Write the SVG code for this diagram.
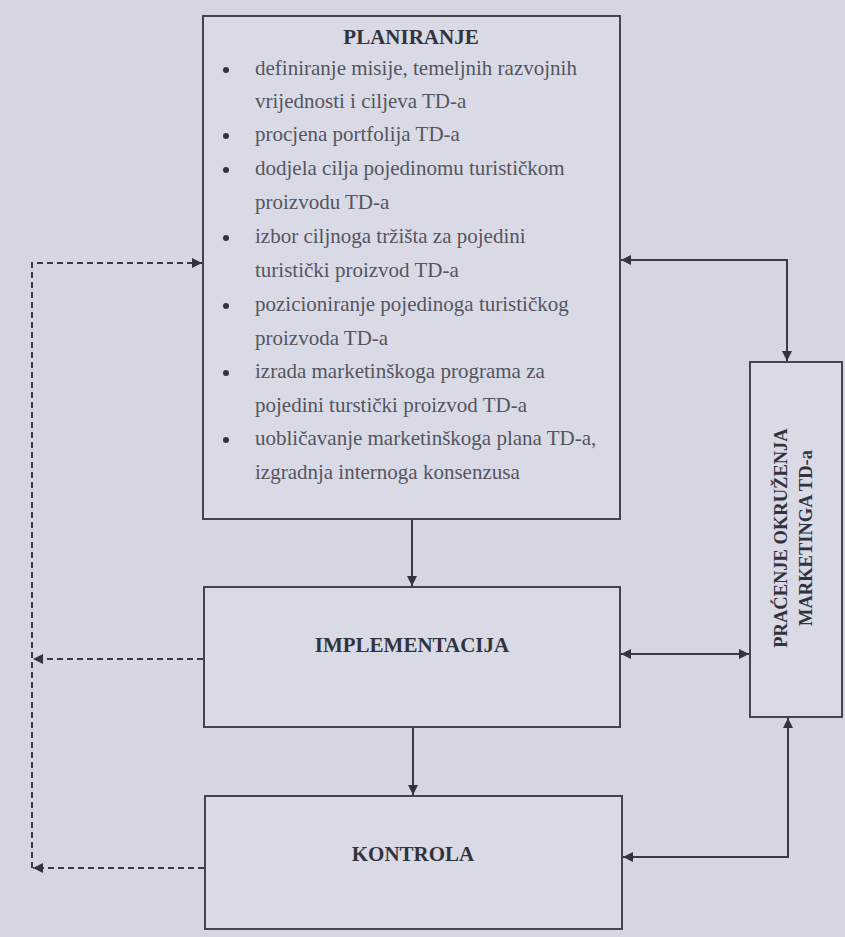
<svg xmlns="http://www.w3.org/2000/svg" width="845" height="937" viewBox="0 0 845 937">
<style>
.box{fill:#d9dae6;stroke:#44444f;stroke-width:2}
.ln{fill:none;stroke:#3a3a46;stroke-width:2}
.dash{fill:none;stroke:#3a3a46;stroke-width:2;stroke-dasharray:6 4}
.h{font-family:"Liberation Serif",serif;font-weight:bold;font-size:21px;fill:#33333d;text-anchor:middle}
.v{font-family:"Liberation Serif",serif;font-weight:bold;font-size:18.5px;fill:#33333d;text-anchor:middle}
.b{font-family:"Liberation Serif",serif;font-size:21px;fill:#55555f}
</style>
<defs>
<marker id="ah" viewBox="0 0 10 10" refX="10" refY="5" markerWidth="5" markerHeight="5" orient="auto-start-reverse" markerUnits="strokeWidth">
<path d="M0,0 L10,5 L0,10 z" fill="#33333d"/>
</marker>
</defs>
<rect width="845" height="937" fill="#d5d6e2"/>

<g id="planiranje">
<rect class="box" x="203" y="16" width="417" height="503"/>
<text class="h" x="411" y="44">PLANIRANJE</text>
<g fill="#33333d">
<circle cx="226" cy="70" r="3"/>
<circle cx="226" cy="136" r="3"/>
<circle cx="226" cy="170" r="3"/>
<circle cx="226" cy="238" r="3"/>
<circle cx="226" cy="306" r="3"/>
<circle cx="226" cy="373" r="3"/>
<circle cx="226" cy="440" r="3"/>
</g>
<text class="b" x="255" y="75">definiranje misije, temeljnih razvojnih</text>
<text class="b" x="255" y="108">vrijednosti i ciljeva TD-a</text>
<text class="b" x="255" y="141">procjena portfolija TD-a</text>
<text class="b" x="255" y="175">dodjela cilja pojedinomu turističkom</text>
<text class="b" x="255" y="209">proizvodu TD-a</text>
<text class="b" x="255" y="243">izbor ciljnoga tržišta za pojedini</text>
<text class="b" x="255" y="277">turistički proizvod TD-a</text>
<text class="b" x="255" y="311">pozicioniranje pojedinoga turističkog</text>
<text class="b" x="255" y="345">proizvoda TD-a</text>
<text class="b" x="255" y="378">izrada marketinškoga programa za</text>
<text class="b" x="255" y="412">pojedini turstički proizvod TD-a</text>
<text class="b" x="255" y="445">uobličavanje marketinškoga plana TD-a,</text>
<text class="b" x="255" y="479">izgradnja internoga konsenzusa</text>
</g>

<g id="implementacija">
<rect class="box" x="204" y="587" width="416" height="140"/>
<text class="h" x="412" y="652">IMPLEMENTACIJA</text>
</g>

<g id="kontrola">
<rect class="box" x="205" y="796" width="417" height="133"/>
<text class="h" x="413" y="861">KONTROLA</text>
</g>

<g id="pracenje">
<rect class="box" x="750" y="362" width="92" height="355"/>
<text class="v" transform="translate(787,538) rotate(-90)">PRAĆENJE OKRUŽENJA</text>
<text class="v" transform="translate(812,538) rotate(-90)">MARKETINGA TD-a</text>
</g>

<g id="connectors">
<line class="ln" x1="412" y1="519" x2="412" y2="586" marker-end="url(#ah)"/>
<line class="ln" x1="413" y1="727" x2="413" y2="795" marker-end="url(#ah)"/>
<path class="ln" d="M621,260 H787 V361" marker-start="url(#ah)" marker-end="url(#ah)"/>
<line class="ln" x1="621" y1="654" x2="749" y2="654" marker-start="url(#ah)" marker-end="url(#ah)"/>
<path class="ln" d="M623,857 H788 V718" marker-start="url(#ah)" marker-end="url(#ah)"/>
<path class="dash" d="M32,868 V263 H202" marker-end="url(#ah)"/>
<line class="dash" x1="203" y1="659" x2="33" y2="659" marker-end="url(#ah)"/>
<line class="dash" x1="204" y1="868" x2="33" y2="868" marker-end="url(#ah)"/>
</g>
</svg>
